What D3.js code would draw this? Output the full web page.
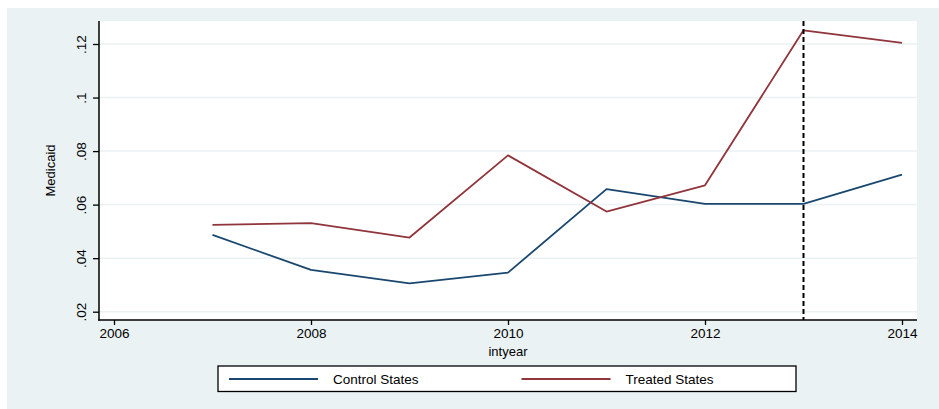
<!DOCTYPE html>
<meta charset="utf-8">
<style>
body { margin: 0; background: #fff; }
text { font-family: "Liberation Sans", Arial, sans-serif; fill: #000; }
.grid line { stroke: #eaf2f3; stroke-width: 1.5px; }
</style>
<svg width="939" height="409"></svg>
<script src="https://d3js.org/d3.v7.min.js"></script>
<script>
var svg = d3.select("svg");

// data
var years = [2007, 2008, 2009, 2010, 2011, 2012, 2013, 2014];
var control = [0.0487, 0.0356, 0.0306, 0.0346, 0.0658, 0.0603, 0.0603, 0.0712];
var treated = [0.0524, 0.0531, 0.0477, 0.0784, 0.0574, 0.0672, 0.1251, 0.1204];
var yTicks = [0.02, 0.04, 0.06, 0.08, 0.10, 0.12];
var yTickLabels = [".02", ".04", ".06", ".08", ".1", ".12"];
var xTicks = [2006, 2008, 2010, 2012, 2014];
var seriesNames = ["Control States", "Treated States"];
var seriesColors = ["#1a476f", "#90353b"];
var policyYear = 2013;

// plot region (window.top is read-only, so use other names)
var plotL = 99, plotR = 917, plotT = 21, plotB = 320;

var x = d3.scaleLinear().domain([2006, 2014]).range([114, 902]);
var y = d3.scaleLinear().domain([0.02, 0.12]).range([311.7, 44]);

// backgrounds
svg.append("rect").attr("x", 7).attr("y", 8).attr("width", 932).attr("height", 401)
  .attr("fill", "#eaf2f3");
svg.append("rect").attr("x", plotL).attr("y", plotT).attr("width", plotR - plotL)
  .attr("height", plotB - plotT).attr("fill", "#fff");

// gridlines
svg.append("g").attr("class", "grid")
  .selectAll("line").data(yTicks).enter().append("line")
  .attr("x1", plotL).attr("x2", plotR)
  .attr("y1", function(d) { return y(d); })
  .attr("y2", function(d) { return y(d); });

// axes
var yAxis = d3.axisLeft(y).tickValues(yTicks)
  .tickFormat(function(d, i) { return yTickLabels[i]; })
  .tickSize(6).tickSizeOuter(0);
var gy = svg.append("g").attr("transform", "translate(" + plotL + ",0)").call(yAxis);
gy.select(".domain").remove();
gy.selectAll(".tick line").attr("stroke", "#000").attr("stroke-width", 1.3);
gy.selectAll(".tick text")
  .attr("transform", "rotate(-90)")
  .attr("x", 0).attr("y", -13)
  .attr("dy", 0)
  .attr("text-anchor", "middle")
  .style("font-size", "13.5px");

var xAxis = d3.axisBottom(x).tickValues(xTicks).tickFormat(d3.format("d"))
  .tickSize(5).tickSizeOuter(0);
var gx = svg.append("g").attr("transform", "translate(0," + plotB + ")").call(xAxis);
gx.select(".domain").remove();
gx.selectAll(".tick line").attr("stroke", "#000").attr("stroke-width", 1.3);
gx.selectAll(".tick text").attr("y", 8).attr("dy", "0.71em").style("font-size", "13.5px");

svg.append("line").attr("x1", plotL).attr("x2", plotL).attr("y1", plotT).attr("y2", plotB + 0.75)
  .attr("stroke", "#000").attr("stroke-width", 1.5);
svg.append("line").attr("x1", plotL - 0.75).attr("x2", plotR).attr("y1", plotB).attr("y2", plotB)
  .attr("stroke", "#000").attr("stroke-width", 1.5);

// axis titles
svg.append("text").attr("transform", "translate(55," + ((plotT + plotB) / 2) + ") rotate(-90)")
  .attr("text-anchor", "middle").style("font-size", "13px").text("Medicaid");
svg.append("text").attr("x", x(2010)).attr("y", 356)
  .attr("text-anchor", "middle").style("font-size", "13px").text("intyear");

// lines
var line = d3.line()
  .x(function(d) { return x(d[0]); })
  .y(function(d) { return y(d[1]); });

[control, treated].forEach(function(vals, i) {
  svg.append("path")
    .datum(years.map(function(yr, j) { return [yr, vals[j]]; }))
    .attr("fill", "none")
    .attr("stroke", seriesColors[i])
    .attr("stroke-width", 1.8)
    .attr("stroke-linejoin", "round")
    .attr("d", line);
});

// policy line
svg.append("line")
  .attr("x1", x(policyYear)).attr("x2", x(policyYear))
  .attr("y1", plotT).attr("y2", plotB)
  .attr("stroke", "#000").attr("stroke-width", 2)
  .attr("stroke-dasharray", "5,3");

// legend
svg.append("rect").attr("x", 218).attr("y", 366).attr("width", 578).attr("height", 25.5)
  .attr("fill", "#fff").attr("stroke", "#000").attr("stroke-width", 1.3);
var legendX = [229, 521.5];
seriesNames.forEach(function(name, i) {
  svg.append("line")
    .attr("x1", legendX[i]).attr("x2", legendX[i] + 89)
    .attr("y1", 379).attr("y2", 379)
    .attr("stroke", seriesColors[i]).attr("stroke-width", 1.8);
  svg.append("text")
    .attr("x", legendX[i] + 104).attr("y", 383.5)
    .style("font-size", "13.5px").text(name);
});
</script>
